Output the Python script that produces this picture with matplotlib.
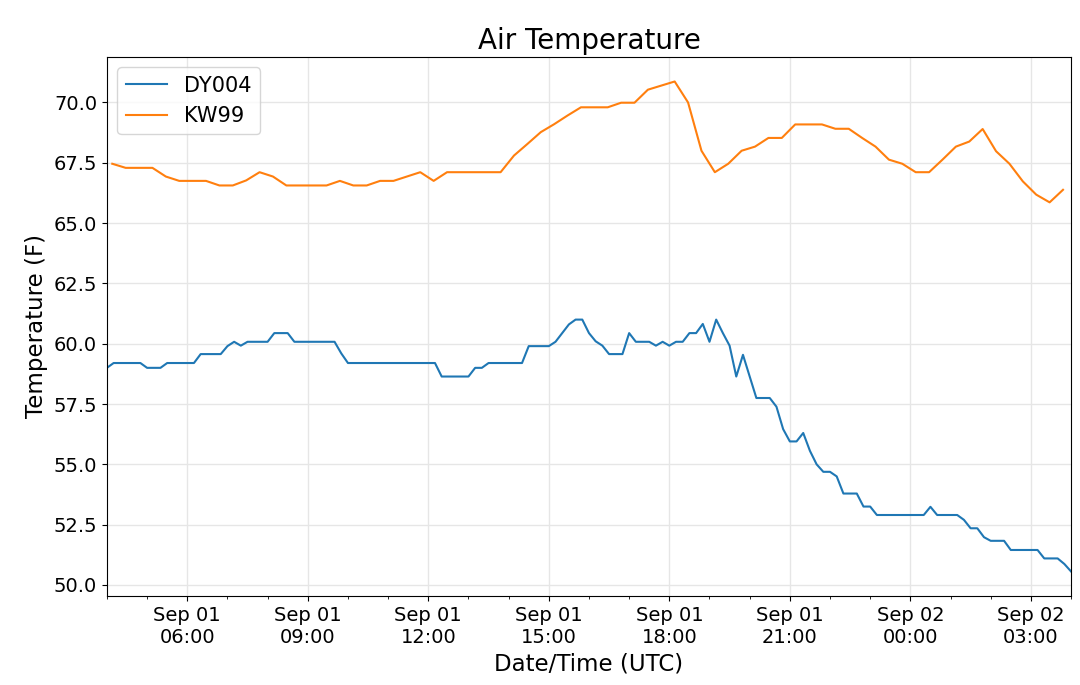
import matplotlib

matplotlib.use("Agg")
import matplotlib.pyplot as plt
import matplotlib.dates as mdates
import numpy as np
import pandas as pd

# DY004: 10-minute readings from Sep 01 04:00 UTC
dy004_start = "2019-09-01 04:00"
dy004_temp = [
    59.0, 59.2, 59.2, 59.2, 59.2, 59.2, 59.0, 59.0, 59.0, 59.2,
    59.2, 59.2, 59.2, 59.2, 59.57, 59.57, 59.57, 59.57, 59.9, 60.08,
    59.92, 60.08, 60.08, 60.08, 60.08, 60.44, 60.44, 60.44, 60.08, 60.08,
    60.08, 60.08, 60.08, 60.08, 60.08, 59.6, 59.2, 59.2, 59.2, 59.2,
    59.2, 59.2, 59.2, 59.2, 59.2, 59.2, 59.2, 59.2, 59.2, 59.2,
    58.64, 58.64, 58.64, 58.64, 58.64, 59.0, 59.0, 59.2, 59.2, 59.2,
    59.2, 59.2, 59.2, 59.9, 59.9, 59.9, 59.9, 60.08, 60.44, 60.8,
    61.0, 61.0, 60.44, 60.1, 59.92, 59.57, 59.57, 59.57, 60.44, 60.08,
    60.08, 60.08, 59.92, 60.08, 59.92, 60.08, 60.08, 60.44, 60.44, 60.82,
    60.08, 61.0, 60.44, 59.92, 58.64, 59.54, 58.64, 57.75, 57.75, 57.75,
    57.39, 56.46, 55.95, 55.95, 56.3, 55.56, 55.0, 54.69, 54.69, 54.5,
    53.79, 53.79, 53.79, 53.25, 53.25, 52.9, 52.9, 52.9, 52.9, 52.9,
    52.9, 52.9, 52.9, 53.24, 52.9, 52.9, 52.9, 52.9, 52.7, 52.35,
    52.35, 51.98, 51.83, 51.83, 51.83, 51.45, 51.45, 51.45, 51.45, 51.45,
    51.1, 51.1, 51.1, 50.87, 50.56,
]

# KW99: 20-minute readings from Sep 01 04:08 UTC
kw99_start = "2019-09-01 04:08"
kw99_temp = [
    67.46, 67.29, 67.29, 67.29, 66.93, 66.75, 66.75, 66.75, 66.56, 66.56,
    66.77, 67.11, 66.93, 66.56, 66.56, 66.56, 66.56, 66.75, 66.56, 66.56,
    66.75, 66.75, 66.93, 67.11, 66.75, 67.11, 67.11, 67.11, 67.11, 67.11,
    67.8, 68.28, 68.77, 69.1, 69.46, 69.8, 69.8, 69.8, 69.99, 69.99,
    70.53, 70.7, 70.87, 70.0, 68.0, 67.11, 67.46, 68.0, 68.17, 68.53,
    68.53, 69.09, 69.09, 69.09, 68.91, 68.91, 68.53, 68.17, 67.63, 67.46,
    67.11, 67.11, 67.63, 68.17, 68.38, 68.9, 67.98, 67.46, 66.73, 66.18,
    65.86, 66.38,
]

dy004_time = pd.date_range(dy004_start, periods=len(dy004_temp), freq="10min")
kw99_time = pd.date_range(kw99_start, periods=len(kw99_temp), freq="20min")

fig = plt.figure(figsize=(10.8, 6.85), dpi=100)
ax = fig.add_axes([0.099, 0.130, 0.8927, 0.7868])

ax.plot(dy004_time, dy004_temp, color="#1f77b4", lw=1.5, label="DY004")
ax.plot(kw99_time, kw99_temp, color="#ff7f0e", lw=1.5, label="KW99")

ax.set_xlim(dy004_time[0], dy004_time[-1])
ax.xaxis.set_major_locator(mdates.HourLocator(byhour=range(0, 24, 3)))
ax.xaxis.set_minor_locator(mdates.HourLocator())
ax.xaxis.set_major_formatter(mdates.DateFormatter("%b %d\n%H:%M"))
ax.yaxis.set_major_formatter(matplotlib.ticker.FormatStrFormatter("%.1f"))

ax.tick_params(axis="both", which="major", labelsize=14)
ax.grid(which="major", color="#e6e6e6", lw=1.0)
ax.set_axisbelow(True)

ax.set_title("Air Temperature", fontsize=20)
ax.set_xlabel("Date/Time (UTC)", fontsize=16.5)
ax.set_ylabel("Temperature (F)", fontsize=16.5)
ax.legend(loc="upper left", fontsize=15)

fig.savefig("out.png", dpi=100)
